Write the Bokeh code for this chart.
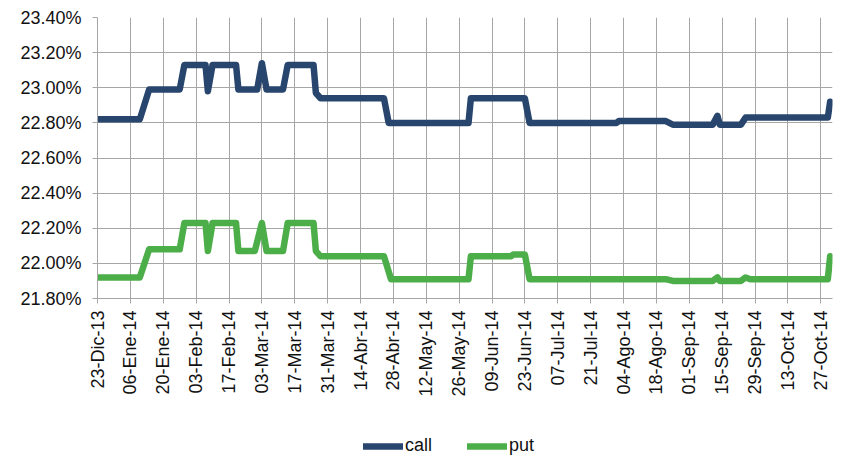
import pandas as pd
from bokeh.plotting import figure
from bokeh.layouts import column
from bokeh.models import (FixedTicker, PrintfTickFormatter, Legend, LegendItem, Range1d)
from bokeh.embed import file_html
from bokeh.resources import INLINE
import math

start_date = "2013-12-23"
end_date = "2014-11-01"

call_dates = ["2013-12-23", "2014-01-10", "2014-01-14", "2014-01-27", "2014-01-29",
              "2014-02-07", "2014-02-08", "2014-02-10", "2014-02-20", "2014-02-21",
              "2014-03-01", "2014-03-03", "2014-03-05", "2014-03-12", "2014-03-14",
              "2014-03-25", "2014-03-26", "2014-03-28", "2014-04-24", "2014-04-26",
              "2014-05-30", "2014-05-31", "2014-06-23", "2014-06-25", "2014-08-01",
              "2014-08-02", "2014-08-22", "2014-08-25", "2014-09-11", "2014-09-13",
              "2014-09-14", "2014-09-23", "2014-09-25", "2014-10-30", "2014-10-31"]
call_values = [22.82, 22.82, 22.99, 22.99, 23.13,
               23.13, 22.98, 23.13, 23.13, 22.99,
               22.99, 23.14, 22.99, 22.99, 23.13,
               23.13, 22.97, 22.94, 22.94, 22.80,
               22.80, 22.94, 22.94, 22.80, 22.80,
               22.81, 22.81, 22.79, 22.79, 22.84,
               22.79, 22.79, 22.83, 22.83, 22.92]

put_dates = ["2013-12-23", "2014-01-10", "2014-01-14", "2014-01-27", "2014-01-29",
             "2014-02-07", "2014-02-08", "2014-02-10", "2014-02-20", "2014-02-21",
             "2014-02-28", "2014-03-03", "2014-03-05", "2014-03-12", "2014-03-14",
             "2014-03-25", "2014-03-26", "2014-03-28", "2014-04-24", "2014-04-27",
             "2014-05-30", "2014-05-31", "2014-06-17", "2014-06-18", "2014-06-23",
             "2014-06-25", "2014-08-22", "2014-08-25", "2014-09-11", "2014-09-13",
             "2014-09-14", "2014-09-23", "2014-09-25", "2014-09-27", "2014-10-30",
             "2014-10-31"]
put_values = [21.92, 21.92, 22.08, 22.08, 22.23,
              22.23, 22.07, 22.23, 22.23, 22.07,
              22.07, 22.23, 22.07, 22.07, 22.23,
              22.23, 22.07, 22.04, 22.04, 21.91,
              21.91, 22.04, 22.04, 22.05, 22.05,
              21.91, 21.91, 21.90, 21.90, 21.92,
              21.90, 21.90, 21.92, 21.91, 21.91,
              22.04]

tick_dates = pd.date_range(start_date, "2014-10-27", freq="14D")
tick_labels = ["23-Dic-13", "06-Ene-14", "20-Ene-14", "03-Feb-14", "17-Feb-14",
               "03-Mar-14", "17-Mar-14", "31-Mar-14", "14-Abr-14", "28-Abr-14",
               "12-May-14", "26-May-14", "09-Jun-14", "23-Jun-14", "07-Jul-14",
               "21-Jul-14", "04-Ago-14", "18-Ago-14", "01-Sep-14", "15-Sep-14",
               "29-Sep-14", "13-Oct-14", "27-Oct-14"]
y_ticks = [21.8, 22.0, 22.2, 22.4, 22.6, 22.8, 23.0, 23.2, 23.4]
series_names = ["call", "put"]

t0 = pd.Timestamp(start_date)
def days(ds):
    return [(pd.Timestamp(d) - t0).days for d in ds]

call_x = days(call_dates)
put_x = days(put_dates)
tick_x = [(d - t0).days for d in tick_dates]
x_end = (pd.Timestamp(end_date) - t0).days

FONT = "Liberation Sans"
FS = "18px"
GRID = "#A6A6A6"
CALL_C = "#27456D"
PUT_C = "#4CAE48"
TXT = "#111111"
LW = 6.5

p = figure(width=846, height=430, output_backend="svg", toolbar_location=None,
           x_range=Range1d(0, x_end), y_range=Range1d(21.8, 23.4),
           min_border_left=97, min_border_right=14, min_border_top=17, min_border_bottom=132)
p.outline_line_color = None

p.line(call_x, call_values, line_width=LW, line_color=CALL_C, line_join="round", line_cap="round")
p.line(put_x, put_values, line_width=LW, line_color=PUT_C, line_join="round", line_cap="round")

p.xaxis.ticker = FixedTicker(ticks=tick_x)
p.xaxis.major_label_overrides = {x: l for x, l in zip(tick_x, tick_labels)}
p.xaxis.major_label_orientation = math.pi / 2
p.xaxis.major_label_standoff = 7
p.yaxis.ticker = FixedTicker(ticks=y_ticks)
p.yaxis.formatter = PrintfTickFormatter(format="%.2f%%")
p.yaxis.major_label_standoff = 11

for ax in (p.xaxis, p.yaxis):
    ax.axis_line_color = GRID
    ax.major_tick_line_color = GRID
    ax.major_tick_out = 5
    ax.major_tick_in = 0
    ax.minor_tick_line_color = None
    ax.major_label_text_font = FONT
    ax.major_label_text_font_size = FS
    ax.major_label_text_color = TXT

p.xgrid.grid_line_color = GRID
p.ygrid.grid_line_color = GRID

# legend strip below the chart (lines hold no visible point; they only carry the style)
lg = figure(width=846, height=28, output_backend="svg", toolbar_location=None,
            x_range=Range1d(0, 1), y_range=Range1d(0, 1),
            x_axis_type=None, y_axis_type=None,
            min_border_left=97, min_border_right=14, min_border_top=0, min_border_bottom=0)
lg.outline_line_color = None
lg.grid.visible = False
nan = float("nan")
l1 = lg.line(x=[nan], y=[nan], line_width=LW, line_color=CALL_C, line_cap="round")
l2 = lg.line(x=[nan], y=[nan], line_width=LW, line_color=PUT_C, line_cap="round")
legend = Legend(items=[LegendItem(label=series_names[0], renderers=[l1]),
                       LegendItem(label=series_names[1], renderers=[l2])],
                orientation="horizontal", location=(266, 2),
                glyph_width=40, glyph_height=20, label_standoff=2, spacing=35,
                padding=0, margin=0, border_line_color=None, background_fill_alpha=0,
                label_text_font=FONT, label_text_font_size=FS, label_text_color=TXT)
lg.add_layout(legend, "center")

layout = column(p, lg, spacing=0)
open("out.html", "w").write(file_html(layout, INLINE))
